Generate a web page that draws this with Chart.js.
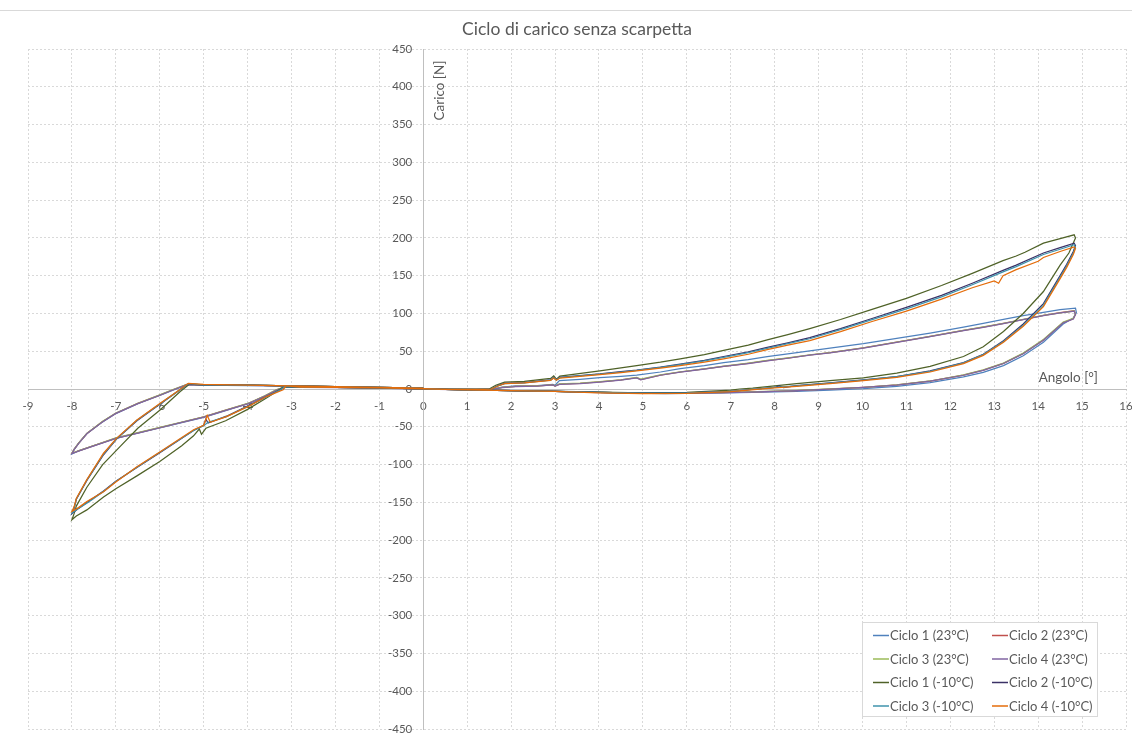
<!DOCTYPE html>
<html>
<head>
<meta charset="utf-8">
<script src="https://cdn.jsdelivr.net/npm/chart.js@4.4.1/dist/chart.umd.min.js"></script>
<style>
html,body{margin:0;padding:0;background:#fff;}
#wrap{position:relative;width:1132px;height:735px;}
canvas{display:block;}
</style>
</head>
<body>
<div id="wrap"><canvas id="c" width="1132" height="735"></canvas></div>
<script>
// ---------- DATA (angle [deg], load [N]) ----------
const seriesNames = ['Ciclo 1 (23°C)','Ciclo 2 (23°C)','Ciclo 3 (23°C)','Ciclo 4 (23°C)',
                     'Ciclo 1 (-10°C)','Ciclo 2 (-10°C)','Ciclo 3 (-10°C)','Ciclo 4 (-10°C)'];
const xTicks = {min:-9, max:16, step:1};
const yTicks = {min:-450, max:450, step:50};

const ciclo1_23 = [[0,0.5],[0.6,-0.3],[1.2,-0.5],[1.6,0.2],[1.8,2.5],[2.1,4],[2.6,4.5],[2.95,6],[3.0,5],[3.1,11],[3.57,12.8],[4.02,15],[4.5,16.8],[4.86,18.5],[5.4,22.5],[5.85,27],[6.4,31],[6.84,34.8],[7.4,39],[7.83,42.8],[8.3,46.5],[8.8,50.5],[9.26,54],[10.02,60],[10.78,67],[11.54,74],[12.3,82],[12.75,87],[13.21,92],[13.66,97],[14.12,101.5],[14.5,105],[14.85,107],
 [14.87,101],[14.8,94],[14.57,86],[14.12,62],[13.66,44],[13.21,31],[12.75,22],[12.3,16],[11.54,8.5],[10.78,3.5],[10.02,0.5],[9.26,-1.5],[8.5,-3],[7.5,-4.5],[6.5,-5.5],[5.5,-6],[4.5,-5],[3.5,-3.5],[2.5,-2.5],[1.5,-1.5],[0.5,-0.5],[0,0],
 [-1,1.5],[-2,2],[-2.8,2.5],[-3.1,3.5],[-3.3,-0.5],[-3.6,-9.5],[-4,-19.5],[-4.5,-28.5],[-5,-37.5],[-5.5,-44.5],[-6,-51.5],[-6.5,-58.5],[-7,-65.5],[-7.5,-75],[-7.85,-82],[-8,-86],
 [-7.95,-80],[-7.85,-72],[-7.66,-59],[-7.3,-43.5],[-7,-32.5],[-6.5,-19.5],[-6,-8.5],[-5.7,-1.5],[-5.38,5.5],[-5,5],[-4,4.5],[-3,4],[-2,3],[-1,2],[0,1]];

const ciclo2_23 = [[0,0.3],[0.6,-0.4],[1.2,-0.6],[1.6,0],[1.8,2],[2.1,3.5],[2.6,4],[2.95,5.5],[3.0,4],[3.1,6.5],[3.57,7.5],[4.02,9.5],[4.5,12],[4.86,15],[4.95,12.5],[5.4,18.5],[5.85,22.5],[6.4,26.5],[6.84,30],[7.4,34],[7.83,37.5],[8.3,41],[8.8,45],[9.26,48],[10.02,54.5],[10.78,62],[11.54,69.5],[12.3,77.5],[12.75,82],[13.21,87],[13.66,92],[14.12,97.5],[14.5,101],[14.82,103.5],
 [14.85,99],[14.8,93],[14.57,88],[14.12,65],[13.66,47],[13.21,34],[12.75,25],[12.3,18.5],[11.54,10.5],[10.78,5.3],[10.02,2.2],[9.26,0],[8.5,-2],[8,-3],[7,-4.5],[6,-5.5],[5,-5.5],[4,-4.5],[3,-3],[2,-2],[1,-1],[0,0],
 [-1,1.5],[-2,2],[-2.8,2.5],[-3.1,3.5],[-3.34,-1],[-3.6,-9],[-3.98,-19],[-4.5,-28],[-5,-37],[-5.5,-44],[-6,-51],[-6.5,-58],[-7,-65],[-7.5,-75],[-7.85,-82],[-8,-85],
 [-7.95,-80],[-7.85,-72],[-7.66,-59],[-7.3,-43],[-7,-32],[-6.5,-19],[-6,-8],[-5.7,-1],[-5.38,6],[-5,5.5],[-4,5],[-3,4],[-2,3],[-1,2],[0,1]];

const ciclo3_23 = [[0,0.4],[0.6,-0.3],[1.2,-0.5],[1.6,0.1],[1.8,2.2],[2.1,3.6],[2.6,4.1],[2.95,5.6],[3.0,4.2],[3.1,6.8],[3.57,7.8],[4.02,9.6],[4.5,12.2],[4.86,15.2],[4.95,13],[5.4,18.6],[5.85,22.8],[6.4,26.6],[6.84,30.2],[7.4,34.2],[7.83,37.8],[8.3,41.2],[8.8,45.2],[9.26,48.2],[10.02,54.6],[10.78,62.2],[11.54,69.6],[12.3,77.6],[12.75,82.2],[13.21,87],[13.66,92.2],[14.12,97.4],[14.5,100.8],[14.82,103.2],
 [14.85,99.2],[14.8,93.5],[14.57,88.5],[14.12,65.5],[13.66,47.5],[13.21,34.3],[12.75,25.3],[12.3,18.7],[11.54,10.6],[10.78,5.4],[10.02,2.3],[9.26,0.2],[8.5,-1.8],[8,-2.8],[7,-4.4],[6,-5.4],[5,-5.6],[4,-4.6],[3,-3.1],[2,-2.1],[1,-1.1],[0,0],
 [-1,1.6],[-2,2.1],[-2.8,2.6],[-3.1,3.6],[-3.34,-0.8],[-3.6,-8.8],[-3.98,-18.8],[-4.5,-27.8],[-5,-36.8],[-5.5,-43.8],[-6,-50.8],[-6.5,-57.8],[-7,-64.8],[-7.5,-74.8],[-7.85,-81.8],[-8,-84.8],
 [-7.95,-79.8],[-7.85,-71.8],[-7.66,-58.8],[-7.3,-42.8],[-7,-31.8],[-6.5,-18.8],[-6,-7.8],[-5.7,-0.8],[-5.38,6.2],[-5,5.6],[-4,5.1],[-3,4.1],[-2,3.1],[-1,2.1],[0,1.1]];

const ciclo4_23 = [[0,0.2],[0.6,-0.5],[1.2,-0.7],[1.6,-0.1],[1.8,1.8],[2.1,3.3],[2.6,3.8],[2.95,5.3],[3.0,3.8],[3.1,6.2],[3.57,7.2],[4.02,9.2],[4.5,11.8],[4.86,14.6],[4.95,12],[5.4,18.2],[5.85,22.2],[6.4,26.2],[6.84,29.8],[7.4,33.7],[7.83,37.2],[8.3,40.7],[8.8,44.7],[9.26,47.7],[10.02,54.2],[10.78,61.7],[11.54,69.2],[12.3,77.2],[12.75,81.7],[13.21,86.6],[13.66,91.7],[14.12,97],[14.5,100.6],[14.82,103],
 [14.85,98.7],[14.8,92.6],[14.57,87.6],[14.12,64.6],[13.66,46.6],[13.21,33.7],[12.75,24.7],[12.3,18.2],[11.54,10.3],[10.78,5.1],[10.02,2],[9.26,-0.2],[8.5,-2.2],[8,-3.2],[7,-4.7],[6,-5.7],[5,-5.7],[4,-4.7],[3,-3.2],[2,-2.2],[1,-1.2],[0,-0.2],
 [-1,1.3],[-2,1.8],[-2.8,2.3],[-3.1,3.3],[-3.34,-1.3],[-3.6,-9.3],[-3.98,-19.3],[-4.5,-28.3],[-5,-37.3],[-5.5,-44.3],[-6,-51.3],[-6.5,-58.3],[-7,-65.3],[-7.5,-75.3],[-7.85,-82.3],[-8,-85.5],
 [-7.95,-80.3],[-7.85,-72.3],[-7.66,-59.3],[-7.3,-43.3],[-7,-32.3],[-6.5,-19.3],[-6,-8.3],[-5.7,-1.3],[-5.38,5.8],[-5,5.3],[-4,4.8],[-3,3.8],[-2,2.8],[-1,1.8],[0,0.8]];

const ciclo1_m10 = [[0,0.5],[0.6,-0.5],[1.2,-0.5],[1.5,0],[1.65,5],[1.85,9],[2.3,10],[2.9,14],[2.97,17.5],[3.03,13],[3.11,17],[3.5,20],[4.02,24],[4.5,28],[4.86,31],[5.4,35.5],[5.85,40],[6.4,45.5],[6.84,51],[7.4,58],[7.83,65],[8.3,72],[8.8,80],[9.5,92],[10.2,105],[11,120],[11.8,137],[12.5,153],[13.2,170],[13.5,176],[13.7,181],[14.12,193],[14.5,199],[14.82,204],
 [14.85,200],[14.7,180],[14.5,164],[14.12,129],[13.66,100],[13.21,76],[12.75,56],[12.3,43],[11.54,30],[10.78,21],[10.02,14.6],[9.26,11],[8.5,7],[8,4],[7.5,1],[7.2,0],[7,-1.5],[6,-4.5],[5,-5],[4,-4],[3,-3],[2,-2],[1,-1],[0,0],
 [-1,1.5],[-2,2],[-2.8,2.5],[-3.2,2],[-3.57,-12],[-4,-27],[-4.5,-42],[-4.95,-52],[-5.05,-60],[-5.1,-53],[-5.23,-62],[-5.5,-75],[-6,-96],[-6.52,-115],[-7,-132],[-7.28,-143],[-7.66,-160],[-7.9,-168],[-8,-173],
 [-7.95,-165],[-7.9,-155],[-7.66,-130],[-7.3,-100],[-6.9,-76],[-6.5,-52],[-6,-28],[-5.54,-3.6],[-5.32,6.5],[-5,5.5],[-4,5],[-3,4],[-2,3],[-1,2],[0,1]];

const ciclo2_m10 = [[0,0.5],[0.6,-0.5],[1.2,-0.5],[1.55,0],[1.7,4.5],[1.85,7.5],[2.3,8.5],[2.9,12],[2.97,15.5],[3.03,12],[3.11,15.5],[3.5,17.5],[4.02,20],[4.5,23],[4.86,25],[5.4,29],[5.85,33],[6.4,38],[6.84,43],[7.4,49],[7.83,55],[8.3,61],[8.8,68],[9.5,80],[10.2,93],[11,108],[11.8,124],[12.5,140],[13.2,157],[13.5,164],[14.12,180],[14.5,187],[14.82,193],
 [14.85,190],[14.8,182],[14.65,165],[14.5,150],[14.12,113],[13.66,86],[13.21,64],[12.75,46],[12.3,35],[11.54,24],[10.78,16.5],[10.02,12],[9.26,8],[8.5,4.5],[8.2,2],[8.1,4],[8,2],[7.6,0],[7,-3],[6,-5],[5,-5.5],[4,-4.5],[3,-3],[2,-2],[1,-1],[0,0],
 [-1,1.5],[-2,2],[-2.8,2.5],[-3.15,3],[-3.25,-1],[-3.57,-10],[-3.98,-22],[-4.48,-36],[-4.9,-45],[-4.95,-40],[-5.0,-48],[-5.23,-55],[-5.99,-84],[-6.52,-104],[-7,-122],[-7.28,-135],[-7.6,-148],[-7.85,-158],[-8,-165],
 [-7.95,-158],[-7.9,-146],[-7.66,-121],[-7.28,-87],[-6.98,-66],[-6.52,-42],[-5.99,-20],[-5.61,-4],[-5.35,6.5],[-5,5.5],[-4,5],[-3,4],[-2,3],[-1,2],[0,1]];

const ciclo3_m10 = [[0,0.5],[0.6,-0.5],[1.2,-0.5],[1.55,0],[1.7,4.2],[1.85,7.2],[2.3,8.2],[2.9,11.7],[2.97,15],[3.03,11.8],[3.11,15.2],[3.5,17.2],[4.02,19.6],[4.5,22.5],[4.86,24.5],[5.4,28.5],[5.85,32.2],[6.4,37.3],[6.84,42],[7.4,48],[7.83,53.8],[8.3,60],[8.8,66.5],[9.5,78.5],[10.2,91.5],[11,106],[11.8,122],[12.5,138],[13.2,155],[13.5,162],[14.12,178],[14.5,185],[14.82,191],
 [14.85,188],[14.8,180],[14.65,163],[14.5,148],[14.12,111],[13.66,84.5],[13.21,63],[12.75,45.5],[12.3,34.5],[11.54,23.5],[10.78,16.3],[10.02,11.8],[9.26,7.8],[8.5,4.2],[8,2],[7.6,0],[7,-3],[6,-5.2],[5,-5.6],[4,-4.6],[3,-3.1],[2,-2.1],[1,-1.1],[0,0],
 [-1,1.5],[-2,2],[-2.8,2.5],[-3.15,3],[-3.25,-1],[-3.57,-10.5],[-3.98,-22.5],[-4.48,-36.5],[-4.9,-44],[-5.0,-48.5],[-5.23,-55],[-5.99,-83.5],[-6.52,-103.5],[-7,-122.5],[-7.28,-135.5],[-7.6,-149],[-7.85,-158],[-8,-164],
 [-7.95,-157],[-7.9,-145.5],[-7.66,-120.5],[-7.28,-86],[-6.98,-65.5],[-6.52,-41.5],[-5.99,-19.5],[-5.61,-3.8],[-5.35,7],[-5,5.5],[-4,5],[-3,4],[-2,3],[-1,2],[0,1]];

const ciclo4_m10 = [[0,0.5],[0.6,-0.6],[1.2,-0.6],[1.55,0],[1.7,4],[1.85,7],[2.3,8],[2.9,11.5],[2.97,14.5],[3.03,11.5],[3.11,14.5],[3.5,16.5],[4.02,19],[4.5,21.8],[4.86,24],[5.4,27.5],[5.85,31],[6.4,35.5],[6.84,40],[7.4,46],[7.83,52],[8.3,58],[8.8,64],[9.5,76],[10.2,89],[11,103],[11.8,119],[12.5,134],[13.0,143],[13.1,140],[13.2,150],[13.5,158],[14.0,169],[14.12,174],[14.5,182],[14.82,188],
 [14.85,186],[14.8,178],[14.65,161],[14.5,146],[14.12,109],[13.66,83],[13.21,62],[12.75,44.5],[12.3,33.5],[11.54,22.5],[10.78,15.5],[10.02,11],[9.26,7],[8.5,3.5],[8,1.5],[7.6,-0.5],[7,-3.5],[6,-5.8],[5,-6.2],[4,-5],[3,-3.3],[2,-2.2],[1,-1.2],[0,0],
 [-1,1.5],[-2,2],[-2.8,2.5],[-3.12,4],[-3.19,-1],[-3.57,-10],[-3.98,-23],[-4.48,-36.6],[-4.85,-44],[-4.92,-35],[-5.0,-48],[-5.23,-54],[-5.99,-83],[-6.52,-103],[-7,-123],[-7.28,-136],[-7.66,-149],[-7.85,-157],[-8,-162],
 [-7.95,-156],[-7.9,-145],[-7.66,-120],[-7.28,-85],[-6.98,-65],[-6.52,-41],[-5.99,-19],[-5.61,-3.5],[-5.35,7.5],[-5,6],[-4,5.2],[-3,4.2],[-2,3.2],[-1,2.2],[0,1]];

const seriesData = [ciclo1_23, ciclo2_23, ciclo3_23, ciclo4_23, ciclo1_m10, ciclo2_m10, ciclo3_m10, ciclo4_m10];
const seriesColors = ['#4F81BD','#C0504D','#9BBB59','#8064A2','#4F6228','#3B3166','#3F93AD','#E46C0A'];

// ---------- CHART ----------
const FONT = 'Lato, "Open Sans", sans-serif';
const TXT = '#595959';

const datasets = seriesData.map((pts, i) => ({
  label: seriesNames[i],
  data: pts.map(p => ({x: p[0], y: p[1]})),
  showLine: true,
  borderColor: seriesColors[i],
  backgroundColor: seriesColors[i],
  borderWidth: 1.25,
  pointRadius: 0,
  pointHoverRadius: 0,
  tension: 0,
  fill: false,
  order: seriesData.length - 1 - i
}));

const zeroPad = (scale) => {
  scale.paddingLeft = 0; scale.paddingRight = 0;
  scale.paddingTop = 0; scale.paddingBottom = 0;
};

const decorPlugin = {
  id: 'decor',
  beforeDatasetsDraw(chart) {
    // y tick labels, placed left of the vertical axis (which crosses at x = 0)
    const ctx = chart.ctx;
    const xs = chart.scales.x, ys = chart.scales.y;
    const ax = xs.getPixelForValue(0);
    ctx.save();
    ctx.fillStyle = TXT;
    ctx.font = '11.5px ' + FONT;
    ctx.textAlign = 'right';
    ctx.textBaseline = 'middle';
    ys.ticks.forEach(t => {
      ctx.fillText(String(t.value), ax - 11, ys.getPixelForValue(t.value));
    });
    ctx.restore();
  },
  afterDraw(chart) {
    const ctx = chart.ctx;
    const xs = chart.scales.x, ys = chart.scales.y;
    ctx.save();
    // chart border (top edge)
    ctx.strokeStyle = '#d9d9d9';
    ctx.lineWidth = 1;
    ctx.beginPath();
    ctx.moveTo(0, 10.5); ctx.lineTo(1132, 10.5);
    ctx.stroke();
    // axis titles
    ctx.fillStyle = TXT;
    ctx.font = '13.5px ' + FONT;
    ctx.textAlign = 'right';
    ctx.textBaseline = 'middle';
    ctx.fillText('Angolo [°]', 1098, ys.getPixelForValue(0) - 11);
    ctx.save();
    ctx.translate(xs.getPixelForValue(0) + 16, ys.getPixelForValue(395));
    ctx.rotate(-Math.PI / 2);
    ctx.textAlign = 'center';
    ctx.textBaseline = 'middle';
    ctx.fillText('Carico [N]', 0, 0);
    ctx.restore();
    // legend
    const bx = 862.5, by = 622.5, bw = 235, bh = 94;
    ctx.fillStyle = '#ffffff';
    ctx.fillRect(bx, by, bw, bh);
    ctx.strokeStyle = '#d9d9d9';
    ctx.strokeRect(bx, by, bw, bh);
    ctx.font = '13px ' + FONT;
    ctx.textAlign = 'left';
    ctx.textBaseline = 'middle';
    const colX = [873, 992], rowY = [635, 658.5, 682, 705.5];
    chart.data.datasets.forEach((ds, i) => {
      const cx = colX[i % 2], cy = rowY[Math.floor(i / 2)];
      ctx.strokeStyle = ds.borderColor;
      ctx.lineWidth = 1.5;
      ctx.beginPath();
      ctx.moveTo(cx, cy + 0.5); ctx.lineTo(cx + 16, cy + 0.5);
      ctx.stroke();
      ctx.fillStyle = TXT;
      ctx.fillText(ds.label, cx + 17, cy + 1);
    });
    ctx.restore();
  }
};

new Chart(document.getElementById('c'), {
  type: 'scatter',
  data: { datasets },
  options: {
    responsive: false,
    animation: false,
    events: [],
    layout: { padding: { left: 28, right: 6, top: 10, bottom: 6 } },
    plugins: {
      legend: { display: false },
      tooltip: { enabled: false },
      title: {
        display: true,
        text: 'Ciclo di carico senza scarpetta',
        color: TXT,
        font: { family: FONT, size: 17.5, weight: 'normal', lineHeight: 1.2 },
        padding: { top: 9, bottom: 9 }
      }
    },
    scales: {
      x: {
        type: 'linear',
        min: xTicks.min, max: xTicks.max,
        position: { y: 0 },
        afterFit: zeroPad,
        ticks: { stepSize: xTicks.step, color: TXT, font: { family: FONT, size: 11.5 }, padding: 10, maxRotation: 0, autoSkip: false },
        grid: { color: '#d9d9d9', lineWidth: 1, drawTicks: false },
        border: { display: true, color: '#bfbfbf', width: 1, dash: [2, 2] }
      },
      y: {
        type: 'linear',
        min: yTicks.min, max: yTicks.max,
        position: { x: 0 },
        afterFit: zeroPad,
        ticks: { stepSize: yTicks.step, display: false, autoSkip: false },
        grid: { color: '#d9d9d9', lineWidth: 1, drawTicks: false },
        border: { display: true, color: '#bfbfbf', width: 1, dash: [2, 2] }
      }
    }
  },
  plugins: [decorPlugin]
});
</script>
</body>
</html>
